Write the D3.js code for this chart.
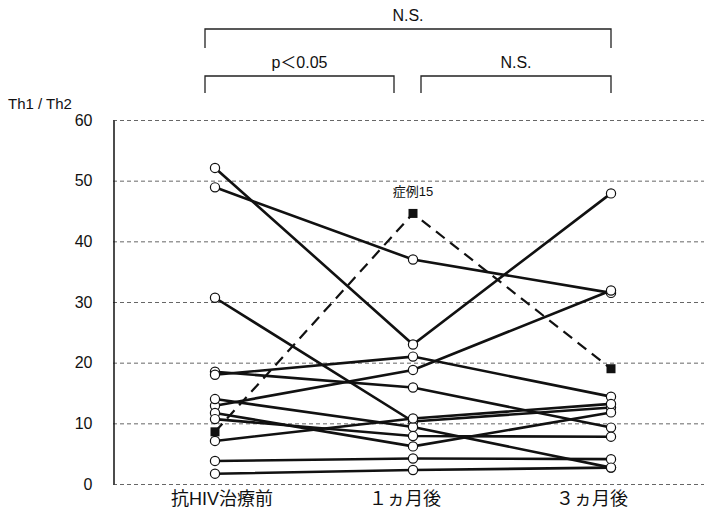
<!DOCTYPE html>
<meta charset="utf-8">
<script src="https://d3js.org/d3.v7.min.js"></script>
<style>
  body { margin: 0; background: #fff; }
  text { font-family: "Liberation Sans", Arial, "Noto Sans CJK JP", sans-serif; fill: #111; }
</style>
<div class="chart"></div>
<script>
    // time points
    var categories = ["抗HIV治療前", "１ヵ月後", "３ヵ月後"];
    var yTicks = [0, 10, 20, 30, 40, 50, 60];

    // Th1/Th2 per patient (pre, 1 month, 3 months)
    var patients = [
        [52.1, 23.0, 47.9],
        [48.9, 37.0, 31.5],
        [30.7, 10.3, 12.6],
        [18.5, 15.9, 9.3],
        [18.0, 21.0, 14.4],
        [12.9, 18.8, 31.9],
        [14.0, 9.4, 2.7],
        [11.7, 6.2, 11.8],
        [10.7, 7.9, 7.8],
        [7.1, 10.8, 13.2],
        [3.8, 4.2, 4.1],
        [1.7, 2.3, 2.7]
    ];
    // case 15, drawn dashed with squares
    var case15 = [8.6, 44.6, 19.0];

    // significance brackets: [from index, to index, label, level]
    var brackets = [
        [0, 2, "N.S.", 0],
        [0, 1, "p＜0.05", 1],
        [1, 2, "N.S.", 1]
    ];

    var width = 704, height = 516;

    var svg = d3.select(".chart").append("svg")
        .attr("width", width)
        .attr("height", height);

    var x = d3.scalePoint()
        .domain(categories)
        .range([215, 611]);

    var y = d3.scaleLinear()
        .domain([0, 60])
        .range([484, 120]);

    // gridlines
    svg.append("g")
        .selectAll("line")
        .data(yTicks)
        .enter()
        .append("line")
        .attr("x1", 113)
        .attr("x2", width)
        .attr("y1", function(d) { return y(d) + 0.5; })
        .attr("y2", function(d) { return y(d) + 0.5; })
        .attr("stroke", "#666")
        .attr("stroke-width", 1)
        .attr("stroke-dasharray", "4,3");

    // y axis
    var yAxis = svg.append("g")
        .attr("transform", "translate(113.5,0)")
        .call(d3.axisLeft(y).tickValues(yTicks).tickSize(0).tickPadding(21));
    yAxis.select(".domain").attr("stroke", "#111").attr("stroke-width", 1.5);
    yAxis.selectAll("text")
        .attr("font-size", "16px")
        .attr("font-family", "Liberation Sans, Arial, sans-serif")
        .attr("fill", "#111");

    svg.append("text")
        .attr("x", 8)
        .attr("y", 109)
        .attr("font-size", "15px")
        .text("Th1 / Th2");

    // category labels
    svg.selectAll(".cat")
        .data(categories)
        .enter()
        .append("text")
        .attr("class", "cat")
        .attr("x", function(d, i) { return x(d) + [7, -8, -19][i]; })
        .attr("y", 505)
        .attr("text-anchor", "middle")
        .attr("font-size", "18px")
        .text(function(d) { return d; });

    var line = d3.line()
        .x(function(d, i) { return x(categories[i]); })
        .y(function(d) { return y(d); });

    // case 15 dashed line
    svg.append("path")
        .attr("d", line(case15))
        .attr("fill", "none")
        .attr("stroke", "#111")
        .attr("stroke-width", 2.2)
        .attr("stroke-dasharray", "11,7");

    // patient lines
    svg.selectAll(".pline")
        .data(patients)
        .enter()
        .append("path")
        .attr("class", "pline")
        .attr("d", line)
        .attr("fill", "none")
        .attr("stroke", "#111")
        .attr("stroke-width", 2.6);

    // circles
    var pts = [];
    patients.forEach(function(p) {
        p.forEach(function(v, i) { pts.push({ c: categories[i], v: v }); });
    });
    svg.selectAll(".pt")
        .data(pts)
        .enter()
        .append("circle")
        .attr("class", "pt")
        .attr("cx", function(d) { return x(d.c); })
        .attr("cy", function(d) { return y(d.v); })
        .attr("r", 4.6)
        .attr("fill", "#fff")
        .attr("stroke", "#111")
        .attr("stroke-width", 1.2);

    // squares for case 15
    svg.selectAll(".sq")
        .data(case15)
        .enter()
        .append("rect")
        .attr("class", "sq")
        .attr("x", function(d, i) { return x(categories[i]) - 4.5; })
        .attr("y", function(d) { return y(d) - 4.5; })
        .attr("width", 9)
        .attr("height", 9)
        .attr("fill", "#111");

    svg.append("text")
        .attr("x", x(categories[1]))
        .attr("y", y(case15[1]) - 17)
        .attr("text-anchor", "middle")
        .attr("font-size", "13px")
        .text("症例15");

    // brackets
    var levelY = [29, 76];
    var levelBottom = [48, 93];
    var br = svg.selectAll(".br")
        .data(brackets)
        .enter()
        .append("g")
        .attr("class", "br");

    function bx0(d) { return x(categories[d[0]]) - (d[0] === 0 ? 10 : -8); }
    function bx1(d) { return x(categories[d[1]]) - (d[3] === 1 && d[1] === 1 ? 19 : 0); }

    br.append("path")
        .attr("d", function(d) {
            var top = levelY[d[3]], bot = levelBottom[d[3]];
            return "M" + bx0(d) + "," + bot + "V" + top + "H" + bx1(d) + "V" + bot;
        })
        .attr("fill", "none")
        .attr("stroke", "#222")
        .attr("stroke-width", 1.3);

    br.append("text")
        .attr("x", function(d) { return (bx0(d) + bx1(d)) / 2; })
        .attr("y", function(d) { return levelY[d[3]] - 8; })
        .attr("text-anchor", "middle")
        .attr("font-size", "16px")
        .text(function(d) { return d[2]; });
</script>
